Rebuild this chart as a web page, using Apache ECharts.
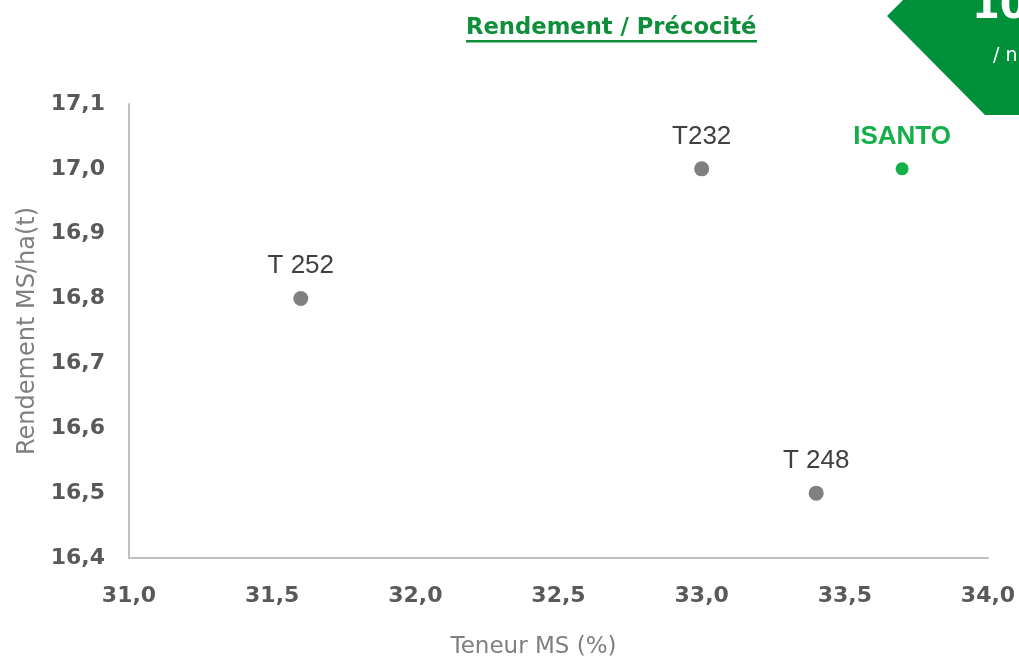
<!DOCTYPE html>
<html>
<head>
<meta charset="utf-8">
<script src="https://cdn.jsdelivr.net/npm/echarts@6/dist/echarts.min.js"></script>
<style>
html,body{margin:0;padding:0;background:#fff;}
#chart{width:1019px;height:664px;}
</style>
</head>
<body>
<div id="chart"></div>
<script>
const varietes = ['T 252', 'T232', 'T 248', 'ISANTO'];
const teneurMS = [31.6, 33.0, 33.4, 33.7];
const rendementMS = [16.8, 17.0, 16.5, 17.0];
const highlight = 'ISANTO';

const fmt = v => (Math.round(v * 10) / 10).toFixed(1).replace('.', ',');

const grayPts = [], greenPts = [];
varietes.forEach((n, i) => {
  const item = { name: n, value: [teneurMS[i], rendementMS[i]] };
  (n === highlight ? greenPts : grayPts).push(item);
});

const chart = echarts.init(document.getElementById('chart'));
chart.setOption({
  animation: false,
  backgroundColor: '#ffffff',
  grid: { left: 129, right: 31, top: 104, bottom: 104 },
  xAxis: {
    type: 'value', min: 31, max: 34, interval: 0.5,
    axisLine: { show: true, lineStyle: { color: '#bfbfbf', width: 2 } },
    axisTick: { show: false },
    splitLine: { show: false },
    axisLabel: { formatter: fmt, color: '#595959', fontSize: 22, fontWeight: 'bold', fontFamily: 'DejaVu Sans', margin: 27 },
    name: 'Teneur MS (%)', nameLocation: 'middle', nameGap: 78,
    nameTextStyle: { color: '#7f7f7f', fontSize: 23, fontFamily: 'DejaVu Sans', padding: [0, 50, 0, 0] }
  },
  yAxis: {
    type: 'value', min: 16.4, max: 17.1, interval: 0.1,
    axisLine: { show: true, lineStyle: { color: '#bfbfbf', width: 2 } },
    axisTick: { show: false },
    splitLine: { show: false },
    axisLabel: { formatter: fmt, color: '#595959', fontSize: 22, fontWeight: 'bold', fontFamily: 'DejaVu Sans', margin: 24 },
    name: 'Rendement MS/ha(t)', nameLocation: 'middle', nameGap: 88, nameRotate: 90,
    nameTextStyle: { color: '#7f7f7f', fontSize: 24, fontFamily: 'DejaVu Sans' }
  },
  series: [
    {
      type: 'scatter', data: grayPts, symbolSize: 15,
      itemStyle: { color: '#808080', opacity: 1 },
      label: { show: true, position: 'top', distance: 12, formatter: p => p.name,
        color: '#404040', fontSize: 26, fontFamily: 'Liberation Sans' }
    },
    {
      type: 'scatter', data: greenPts, symbolSize: 13,
      itemStyle: { color: '#13b04a', opacity: 1 },
      label: { show: true, position: 'top', distance: 13, formatter: p => p.name,
        color: '#13b04a', fontSize: 26, fontWeight: 'bold', fontFamily: 'Liberation Sans' }
    }
  ],
  graphic: [
    {
      type: 'polygon', shape: { points: [[887, 16], [903, 0], [1019, 0], [1019, 115], [985, 115]] },
      style: { fill: '#00903a' }, silent: true
    },
    { type: 'text', left: 972, top: -12, style: { text: '10', fill: '#ffffff', fontSize: 40, fontWeight: 'bold', fontFamily: 'DejaVu Sans' } },
    { type: 'text', left: 993, top: 47, style: { text: '/ n', fill: '#ffffff', fontSize: 19, fontFamily: 'DejaVu Sans' } },
    { type: 'text', left: 466, top: 17, style: { text: 'Rendement / Précocité', fill: '#0f8f3a', fontSize: 22.7, fontWeight: 'bold', fontFamily: 'DejaVu Sans' } },
    { type: 'rect', shape: { x: 466, y: 40, width: 291, height: 2.5 }, style: { fill: '#0f8f3a' } }
  ]
});
</script>
</body>
</html>
